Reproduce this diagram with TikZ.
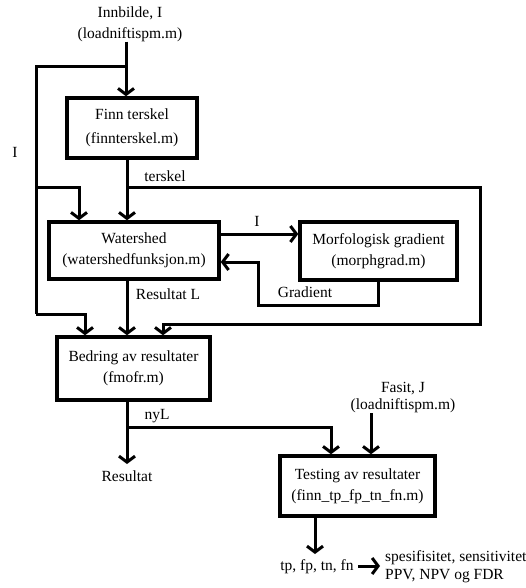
\documentclass[tikz,border=0pt]{standalone}
\usepackage{fontspec}
\setmainfont{Liberation Serif}
\usetikzlibrary{arrows.meta}
\begin{document}
\begin{tikzpicture}[x=1pt,y=-1pt,
  every node/.style={font=\fontsize{15.5}{21}\selectfont, inner sep=0pt},
  box/.style={draw, line width=3.4pt, align=center, minimum width=#1, minimum height=58pt},
  txt/.style={align=center},
  ln/.style={line width=3pt},
  arr/.style={line width=3pt, -{Straight Barb[length=6pt,width=16pt,line width=3pt]}}]
\useasboundingbox (0,0) rectangle (526,588);
% boxes
\node[box=130pt, minimum height=60pt] (finn) at (132,128) {Finn terskel\\[3pt](finnterskel.m)};
\node[box=170pt, minimum height=57pt] (water) at (134,250.5) {Watershed\\(watershedfunksjon.m)};
\node[box=157pt, minimum height=58pt] (morf) at (378.5,251) {Morfologisk gradient\\(morphgrad.m)};
\node[box=153pt, minimum height=63pt] (bedr) at (133.5,368.5) {Bedring av resultater\\(fmofr.m)};
\node[box=155pt, minimum height=60pt] (test) at (357.5,486) {Testing av resultater\\(finn\_tp\_fp\_tn\_fn.m)};
% texts
\node[txt] (in1) at (130,24) {Innbilde, I\\(loadniftispm.m)};
\node[txt, font=\fontsize{15.5}{17}\selectfont] (fasit) at (403,398) {Fasit, J\\(loadniftispm.m)};
\node (res) at (127,476) {Resultat};
\node (tp) at (317,567) {tp, fp, tn, fn};
\node[align=left, anchor=west, font=\fontsize{15.5}{18}\selectfont] (spes) at (385,567) {spesifisitet, sensitivitet\\PPV, NPV og FDR};
% labels
\node (lI) at (15,152) {I};
\node (lters) at (165,176) {terskel};
\node (lI2) at (257,221) {I};
\node (lres) at (168,294) {Resultat L};
\node (lgrad) at (305,292) {Gradient};
\node (lnyl) at (157,416) {nyL};
% coordinates
\coordinate (j1) at (126,67);
\coordinate (cL1) at (36,67);
\coordinate (cL2) at (36,187);
\coordinate (cL3) at (36,314);
\coordinate (w1) at (79,187);
\coordinate (b1) at (85,314);
\coordinate (jt) at (127,187);
\coordinate (tR1) at (480,187);
\coordinate (tR2) at (480,324);
\coordinate (tL) at (163,324);
\coordinate (g1) at (378,305);
\coordinate (g2) at (258,305);
\coordinate (g3) at (258,262);
\coordinate (jn) at (127,427);
\coordinate (n1) at (331,427);
\coordinate (rs) at (127,464);
\coordinate (tpt) at (315,554);
\coordinate (a1) at (358,566);
\coordinate (a2) at (380,566);
% connectors
\draw[arr] (in1.south -| j1) -- (j1 |- finn.north);
\draw[ln] (j1) -- (cL1) -- (cL3);
\draw[arr] (cL2) -- (w1) -- (w1 |- water.north);
\draw[arr] (cL3) -- (b1) -- (b1 |- bedr.north);
\draw[arr] (finn.south -| jt) -- (jt |- water.north);
\draw[arr] (jt) -- (tR1) -- (tR2) -- (tL) -- (tL |- bedr.north);
\draw[arr] (water.east |- 0,234) -- (morf.west |- 0,234);
\draw[arr] (morf.south -| g1) -- (g1) -- (g2) -- (g3) -- (water.east |- g3);
\draw[arr] (water.south -| jt) -- (jt |- bedr.north);
\draw[arr] (bedr.south -| jn) -- (rs);
\draw[arr] (jn) -- (n1) -- (n1 |- test.north);
\draw[arr] (fasit.south -| 371,0) -- (test.north -| 371,0);
\draw[arr] (test.south -| tpt) -- (tpt);
\draw[arr] (a1) -- (a2);
\end{tikzpicture}
\end{document}
